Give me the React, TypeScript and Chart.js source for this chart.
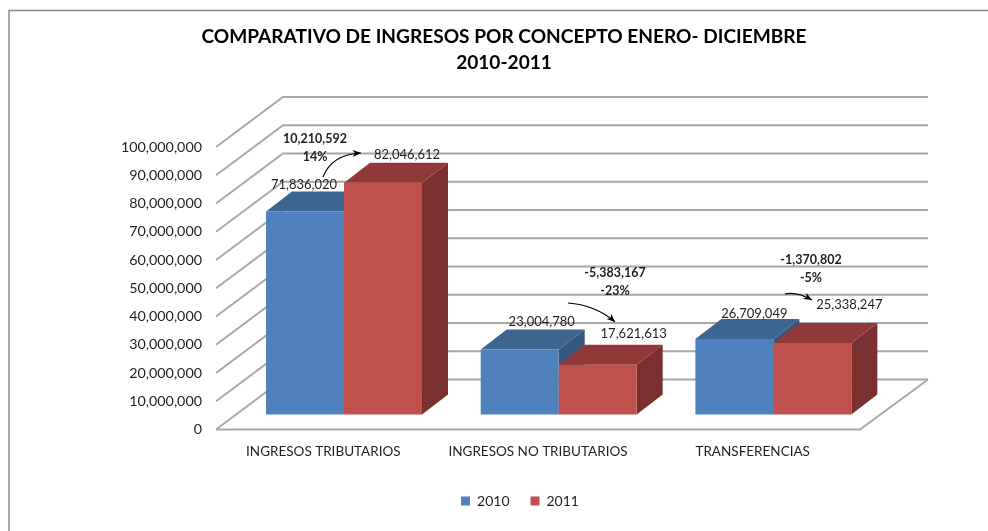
import React, { useEffect, useRef } from "react";
import { Chart, registerables } from "chart.js";

Chart.register(...registerables);

const categories = ["INGRESOS TRIBUTARIOS", "INGRESOS NO TRIBUTARIOS", "TRANSFERENCIAS"];
const values2010 = [71836020, 23004780, 26709049];
const values2011 = [82046612, 17621613, 25338247];
const titleLines = ["COMPARATIVO DE INGRESOS POR CONCEPTO ENERO- DICIEMBRE", "2010-2011"];

const FONT = "Lato";
const TEXT = "#1f1f1f";
const GRID = "#a8a8a8";
const WALL = { dx: 67, dy: -50, right: 928 };
const BAR_SHIFT = { x: 20.7, y: -15 };
const BAR_DEPTH = { dx: 26, dy: -20 };
const SHADES = [
  { front: "#4f81bd", top: "#3e6492", side: "#34567f" },
  { front: "#c0504d", top: "#8f3a38", side: "#7a302e" },
];
// Offsets of value labels from the centre-top of each bar (dataset, category)
const LABEL_OFFSETS = [
  [{ x: -1, y: -27 }, { x: 22, y: -28 }, { x: 20, y: -25 }],
  [{ x: 24, y: -28 }, { x: 36, y: -31 }, { x: 37, y: -38 }],
];
const notes = [
  { lines: ["10,210,592", "14%"], x: 315, y: 139, path: [323, 177, 328, 164, 340, 154, 361, 153] },
  { lines: ["-5,383,167", "-23%"], x: 615, y: 273, path: [568, 303, 585, 304, 603, 311, 615, 322] },
  { lines: ["-1,370,802", "-5%"], x: 811, y: 260, path: [785, 294, 795, 292, 803, 295, 812, 300] },
];

const scene = {
  id: "scene",
  beforeDraw(chart: any) {
    const { ctx, width, height } = chart;
    ctx.save();
    ctx.fillStyle = "#fff";
    ctx.fillRect(0, 0, width, height);
    ctx.strokeStyle = "#8c8c8c";
    ctx.lineWidth = 1.5;
    ctx.beginPath();
    ctx.moveTo(9, height);
    ctx.lineTo(9, 10.5);
    ctx.lineTo(width, 10.5);
    ctx.stroke();
    ctx.restore();
  },
  beforeDatasetsDraw(chart: any) {
    const { ctx, chartArea, scales } = chart;
    const y = scales.y;
    ctx.save();
    ctx.strokeStyle = GRID;
    ctx.lineWidth = 2;
    ctx.lineJoin = "miter";
    y.ticks.forEach((t: any) => {
      const py = y.getPixelForValue(t.value);
      ctx.beginPath();
      ctx.moveTo(chartArea.left, py);
      ctx.lineTo(chartArea.left + WALL.dx, py + WALL.dy);
      ctx.lineTo(WALL.right, py + WALL.dy);
      ctx.stroke();
    });
    const base = y.getPixelForValue(0);
    ctx.beginPath();
    ctx.moveTo(chartArea.left, base);
    ctx.lineTo(chartArea.right, base);
    ctx.lineTo(WALL.right, base + WALL.dy);
    ctx.stroke();
    ctx.restore();

    [0, 1].forEach((i) => {
      const meta = chart.getDatasetMeta(i);
      const c = SHADES[i];
      ctx.save();
      ctx.translate(BAR_SHIFT.x, BAR_SHIFT.y);
      meta.data.forEach((bar: any) => {
        const l = bar.x - bar.width / 2;
        const r = bar.x + bar.width / 2;
        const t = bar.y;
        const b = bar.base;
        ctx.fillStyle = c.side;
        ctx.beginPath();
        ctx.moveTo(r, t);
        ctx.lineTo(r + BAR_DEPTH.dx, t + BAR_DEPTH.dy);
        ctx.lineTo(r + BAR_DEPTH.dx, b + BAR_DEPTH.dy);
        ctx.lineTo(r, b);
        ctx.closePath();
        ctx.fill();
        ctx.fillStyle = c.top;
        ctx.beginPath();
        ctx.moveTo(l, t);
        ctx.lineTo(l + BAR_DEPTH.dx, t + BAR_DEPTH.dy);
        ctx.lineTo(r + BAR_DEPTH.dx, t + BAR_DEPTH.dy);
        ctx.lineTo(r, t);
        ctx.closePath();
        ctx.fill();
      });
      meta.controller.draw();
      ctx.restore();
    });

    ctx.save();
    ctx.fillStyle = TEXT;
    ctx.font = `13px ${FONT}`;
    ctx.textAlign = "center";
    ctx.textBaseline = "middle";
    [0, 1].forEach((i) => {
      const meta = chart.getDatasetMeta(i);
      meta.data.forEach((bar: any, k: number) => {
        const off = LABEL_OFFSETS[i][k];
        const v = chart.data.datasets[i].data[k] as number;
        ctx.fillText(
          v.toLocaleString("en-US"),
          bar.x + BAR_SHIFT.x + off.x,
          bar.y + BAR_SHIFT.y + off.y
        );
      });
    });
    ctx.font = `bold 12.5px ${FONT}`;
    notes.forEach((n) => {
      n.lines.forEach((s, j) => ctx.fillText(s, n.x, n.y + j * 18));
    });
    ctx.strokeStyle = "#000";
    ctx.lineWidth = 1.2;
    notes.forEach((n) => {
      const p = n.path;
      ctx.beginPath();
      ctx.moveTo(p[0], p[1]);
      ctx.bezierCurveTo(p[2], p[3], p[4], p[5], p[6], p[7]);
      ctx.stroke();
      const a = Math.atan2(p[7] - p[5], p[6] - p[4]);
      ctx.fillStyle = "#000";
      ctx.beginPath();
      ctx.moveTo(p[6], p[7]);
      ctx.lineTo(p[6] - 9 * Math.cos(a - 0.4), p[7] - 9 * Math.sin(a - 0.4));
      ctx.lineTo(p[6] - 6 * Math.cos(a), p[7] - 6 * Math.sin(a));
      ctx.lineTo(p[6] - 9 * Math.cos(a + 0.4), p[7] - 9 * Math.sin(a + 0.4));
      ctx.closePath();
      ctx.fill();
    });
    ctx.restore();
    return false;
  },
  afterLayout(chart: any) {
    chart.legend.left += 32;
  },
};

export default function App() {
  const ref = useRef<HTMLCanvasElement | null>(null);
  useEffect(() => {
    const chart = new Chart(ref.current as HTMLCanvasElement, {
      type: "bar",
      data: {
        labels: categories,
        datasets: [
          { label: "2010", data: values2010, backgroundColor: "#4f81bd" },
          { label: "2011", data: values2011, backgroundColor: "#c0504d" },
        ],
      },
      plugins: [scene],
      options: {
        responsive: false,
        animation: false,
        layout: { padding: { left: 20, right: 0, top: 0, bottom: 13 } },
        datasets: { bar: { categoryPercentage: 0.7266, barPercentage: 1, borderWidth: 0 } },
        scales: {
          x: {
            grid: { display: false, drawTicks: false },
            border: { display: false },
            ticks: { color: TEXT, font: { family: FONT, size: 13.5 }, padding: 14, maxRotation: 0, autoSkip: false },
            afterFit: (s: any) => { s.height = 43.5; },
          },
          y: {
            min: 0,
            max: 100000000,
            grid: { display: false, drawTicks: false },
            border: { display: false },
            ticks: {
              stepSize: 10000000,
              color: TEXT,
              padding: 14,
              font: { family: FONT, size: 14.3 },
              callback: (v: any) => Number(v).toLocaleString("en-US"),
            },
            afterFit: (s: any) => { s.width = 196; },
          },
          yRight: {
            position: "right",
            display: true,
            grid: { display: false, drawTicks: false },
            border: { display: false },
            ticks: { display: false },
            afterFit: (s: any) => { s.width = 128; },
          },
        },
        plugins: {
          title: {
            display: true,
            text: titleLines,
            color: "#000",
            font: { family: FONT, size: 19.1, weight: "bold", lineHeight: 1.36 },
            padding: { top: 23.5, bottom: 71.5 },
          },
          legend: {
            display: true,
            position: "bottom",
            labels: { boxWidth: 9, boxHeight: 9, color: TEXT, font: { family: FONT, size: 14 }, padding: 21 },
          },
          tooltip: { enabled: false },
        },
      } as any,
    });
    return () => chart.destroy();
  }, []);
  return (
    <div style={{ position: "fixed", left: 0, top: 0 }}>
      <canvas ref={ref} width={988} height={531} style={{ display: "block" }} />
    </div>
  );
}
